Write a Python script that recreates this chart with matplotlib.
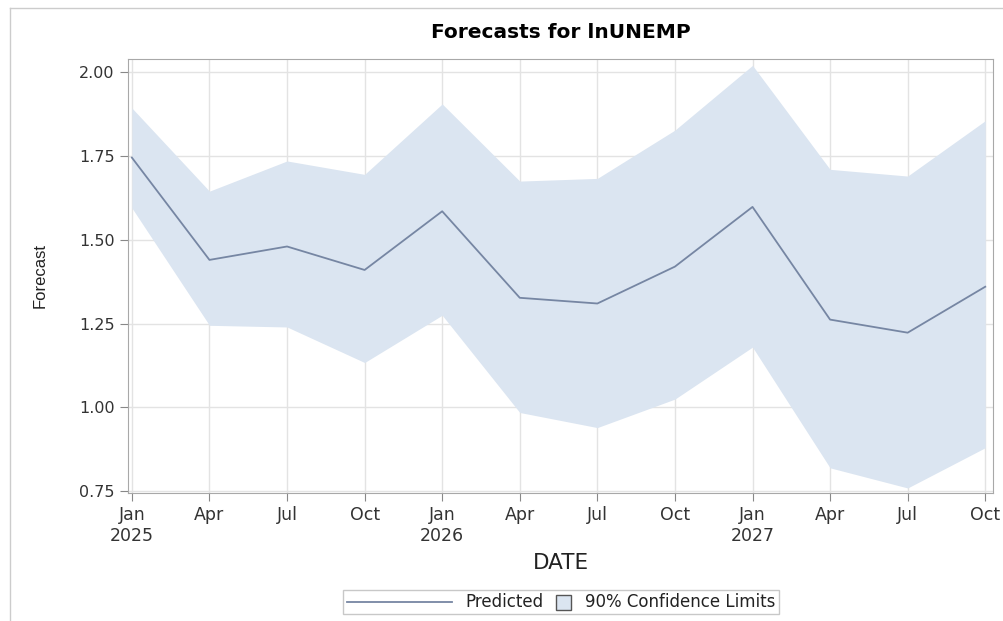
import matplotlib.pyplot as plt
from matplotlib.lines import Line2D
from matplotlib.patches import Rectangle
from matplotlib.offsetbox import (AnchoredOffsetbox, DrawingArea, HPacker,
                                  TextArea)

plt.rcParams['font.family'] = ['DejaVu Sans']

# quarterly forecast points
tick_labels = ['Jan\n2025', 'Apr', 'Jul', 'Oct', 'Jan\n2026', 'Apr', 'Jul', 'Oct',
               'Jan\n2027', 'Apr', 'Jul', 'Oct']
predicted = [1.745, 1.44, 1.48, 1.41, 1.585, 1.327, 1.31, 1.42, 1.598, 1.262, 1.223, 1.36]
upper = [1.893, 1.645, 1.735, 1.695, 1.905, 1.675, 1.683, 1.827, 2.02, 1.71, 1.69, 1.855]
lower = [1.595, 1.245, 1.24, 1.134, 1.275, 0.985, 0.94, 1.025, 1.18, 0.82, 0.76, 0.88]
x = list(range(len(predicted)))

line_color = '#7686a3'
band_color = '#dbe5f1'

fig = plt.figure(figsize=(10.04, 6.21), dpi=100)
ax = fig.add_axes([128 / 1004, 1 - 493 / 621, 865 / 1004, 434 / 621])

ax.fill_between(x, lower, upper, color=band_color, linewidth=0, zorder=1)
ax.plot(x, predicted, color=line_color, linewidth=1.3, zorder=3)

ax.set_xlim(-0.05, 11.1)
ax.set_ylim(0.745, 2.039)
ax.set_xticks(x)
ax.set_xticklabels(tick_labels, linespacing=1.2)
ax.set_yticks([0.75, 1.00, 1.25, 1.50, 1.75, 2.00])
ax.set_yticklabels(['0.75', '1.00', '1.25', '1.50', '1.75', '2.00'])
ax.grid(True, color='#e3e3e3', linewidth=1, zorder=0)
ax.set_axisbelow(True)
for s in ax.spines.values():
    s.set_color('#a8a8a8')
ax.tick_params(colors='#888888', labelcolor='#333333', length=6)
ax.tick_params(axis='x', labelsize=12.5)
ax.tick_params(axis='y', labelsize=11.5)

ax.set_title('Forecasts for lnUNEMP', fontsize=14.5, fontweight='bold', pad=15)
ax.set_xlabel('DATE', fontsize=15.5, labelpad=6, color='#222222')
ax.set_ylabel('Forecast', fontsize=12, labelpad=23,
              family=['Liberation Sans Narrow', 'Liberation Sans'], color='#222222')

# legend: long line for Predicted, small square for the band
line_da = DrawingArea(76, 12, 0, 0)
line_da.add_artist(Line2D([0, 76], [6, 6], color=line_color, lw=1.3))
box_da = DrawingArea(12, 12, 0, 0)
box_da.add_artist(Rectangle((0, 0), 11, 11, facecolor=band_color,
                            edgecolor='#555555', lw=1))
txt = dict(fontsize=12, color='#222222')
items = HPacker(children=[line_da, TextArea('Predicted', textprops=txt),
                          box_da, TextArea('90% Confidence Limits', textprops=txt)],
                align='center', pad=0, sep=9)
leg = AnchoredOffsetbox(loc='center', child=items, pad=0.25, borderpad=0,
                        frameon=True, bbox_to_anchor=(561 / 1004, 1 - 602 / 621),
                        bbox_transform=fig.transFigure)
leg.patch.set_edgecolor('#c8c8c8')
leg.patch.set_linewidth(1)
leg.patch.set_boxstyle('square', pad=0)
fig.add_artist(leg)

# screenshot frame lines
fig.add_artist(Line2D([10 / 1004, 1], [1 - 8 / 621, 1 - 8 / 621], color='#cccccc', lw=1))
fig.add_artist(Line2D([10 / 1004, 10 / 1004], [0, 1 - 8 / 621], color='#cccccc', lw=1))

fig.savefig('out.png', dpi=100)
